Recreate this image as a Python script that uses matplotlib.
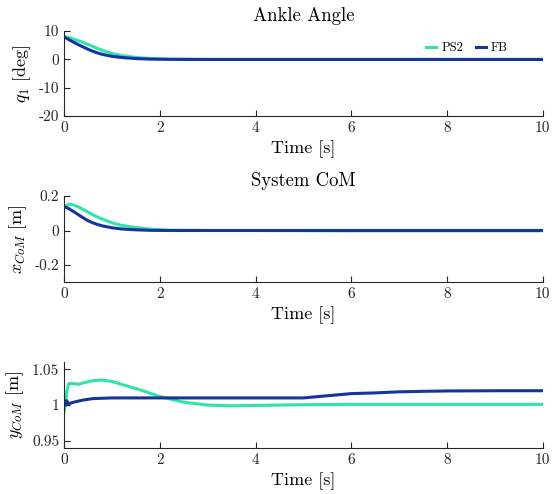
import matplotlib.pyplot as plt

plt.rcParams['font.family'] = 'serif'
plt.rcParams['font.serif'] = ['cmr10']
plt.rcParams['mathtext.fontset'] = 'cm'
plt.rcParams['axes.unicode_minus'] = False
plt.rcParams['axes.formatter.use_mathtext'] = True

ps2_color = '#2fe3ad'
fb_color = '#15359a'

# ankle angle q1 [deg]
t_q_ps2 = [0, 0.1, 0.2, 0.3, 0.4, 0.5, 0.6, 0.7, 0.8, 1.0, 1.2, 1.5, 1.8, 2.2, 3, 4, 6, 8, 10]
q_ps2 = [8, 7.7, 7.2, 6.6, 6.0, 5.3, 4.6, 3.9, 3.2, 2.1, 1.4, 0.7, 0.35, 0.12, 0, 0, 0, 0, 0]
t_q_fb = [0, 0.1, 0.2, 0.3, 0.4, 0.5, 0.6, 0.7, 0.8, 1.0, 1.2, 1.5, 1.8, 2.2, 3, 4, 6, 8, 10]
q_fb = [8, 7.0, 6.1, 5.2, 4.4, 3.6, 2.9, 2.3, 1.8, 1.1, 0.7, 0.3, 0.12, 0.03, 0, 0, 0, 0, 0]

# x_CoM [m]
t_x_ps2 = [0.05, 0.1, 0.15, 0.2, 0.3, 0.4, 0.5, 0.6, 0.7, 0.8, 1.0, 1.2, 1.5, 1.8, 2.2, 3, 4, 6, 8, 10]
x_ps2 = [0.145, 0.153, 0.152, 0.148, 0.137, 0.122, 0.107, 0.092, 0.078, 0.066, 0.045, 0.03, 0.017, 0.008, 0.002, 0, 0, -0.002, -0.002, -0.002]
t_x_fb = [0, 0.1, 0.2, 0.3, 0.4, 0.5, 0.6, 0.7, 0.8, 1.0, 1.2, 1.5, 1.8, 2.2, 3, 4, 6, 8, 10]
x_fb = [0.14, 0.127, 0.11, 0.092, 0.074, 0.057, 0.045, 0.035, 0.027, 0.016, 0.009, 0.004, 0.001, 0, 0, 0, 0, 0, 0]

# y_CoM [m]
t_y_ps2 = [0, 0.03, 0.06, 0.1, 0.2, 0.3, 0.4, 0.6, 0.8, 1.0, 1.3, 1.6, 2.0, 2.5, 3.0, 3.5, 4.0, 5.0, 6.0, 8.0, 10]
y_ps2 = [0.99, 1.0, 1.02, 1.03, 1.03, 1.029, 1.031, 1.034, 1.035, 1.033, 1.027, 1.021, 1.012, 1.004, 1.0, 0.999, 0.9995, 1.0005, 1.001, 1.001, 1.001]
t_y_fb = [0, 0.02, 0.04, 0.06, 0.08, 0.1, 0.2, 0.4, 0.6, 1.0, 1.5, 2.0, 3.0, 4.0, 5.0, 5.5, 6.0, 6.5, 7.0, 7.5, 8.0, 9.0, 10]
y_fb = [1.0, 1.006, 1.0, 1.006, 1.002, 1.002, 1.004, 1.007, 1.009, 1.01, 1.01, 1.01, 1.01, 1.01, 1.01, 1.013, 1.016, 1.017, 1.0185, 1.0192, 1.0197, 1.02, 1.02]

fig = plt.figure(figsize=(5.58, 4.94), dpi=100)
ax1 = fig.add_axes([0.1147, 0.765, 0.858, 0.172])
ax2 = fig.add_axes([0.1147, 0.429, 0.858, 0.174])
ax3 = fig.add_axes([0.1147, 0.093, 0.858, 0.174])

lw = 2.2
ax1.plot(t_q_ps2, q_ps2, color=ps2_color, lw=lw, label='PS2')
ax1.plot(t_q_fb, q_fb, color=fb_color, lw=lw, label='FB')
ax2.plot(t_x_ps2, x_ps2, color=ps2_color, lw=lw)
ax2.plot(t_x_fb, x_fb, color=fb_color, lw=lw)
ax3.plot(t_y_ps2, y_ps2, color=ps2_color, lw=lw)
ax3.plot(t_y_fb, y_fb, color=fb_color, lw=lw)

ax1.set_ylim(-20, 10)
ax1.set_yticks([-20, -10, 0, 10])
ax1.set_yticklabels(['-20', '-10', '0', '10'])
ax2.set_ylim(-0.3, 0.2)
ax2.set_yticks([-0.2, 0, 0.2])
ax2.set_yticklabels(['-0.2', '0', '0.2'])
ax3.set_ylim(0.94, 1.06)
ax3.set_yticks([0.95, 1.0, 1.05])
ax3.set_yticklabels(['0.95', '1', '1.05'])

ax1.set_title('Ankle Angle', fontsize=13.5, pad=7)
ax2.set_title('System CoM', fontsize=13.5, pad=7)
ax1.set_ylabel(r'$q_1$ [deg]', fontsize=13)
ax2.set_ylabel(r'$x_{CoM}$ [m]', fontsize=13)
ax3.set_ylabel(r'$y_{CoM}$ [m]', fontsize=13)

for ax in (ax1, ax2, ax3):
    ax.set_xlim(0, 10)
    ax.set_xticks([0, 2, 4, 6, 8, 10])
    ax.set_xticklabels(['0', '2', '4', '6', '8', '10'])
    ax.set_xlabel('Time [s]', fontsize=13)
    ax.spines['top'].set_visible(False)
    ax.spines['right'].set_visible(False)
    ax.spines['left'].set_color('#262626')
    ax.spines['bottom'].set_color('#262626')
    ax.tick_params(direction='in', labelsize=11, length=4, colors='#262626')

ax1.legend(loc='center right', bbox_to_anchor=(0.94, 0.8), ncol=2, frameon=False,
           fontsize=9, handlelength=0.8, columnspacing=1.0, handletextpad=0.4,
           borderaxespad=0.1)

fig.savefig('out.png', dpi=100)
